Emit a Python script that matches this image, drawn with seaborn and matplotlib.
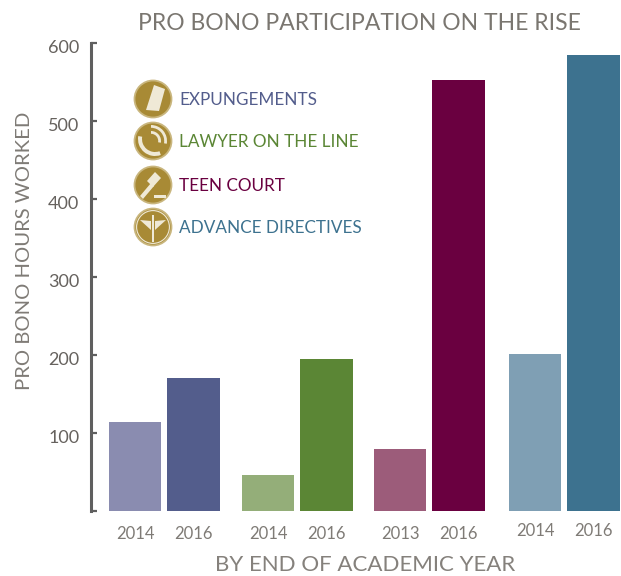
import matplotlib
matplotlib.use("Agg")
import matplotlib.pyplot as plt
from matplotlib.patches import Circle, Polygon, Wedge, Rectangle
from matplotlib.transforms import ScaledTranslation
import pandas as pd
import seaborn as sns

programs = ["EXPUNGEMENTS", "LAWYER ON THE LINE", "TEEN COURT", "ADVANCE DIRECTIVES"]
program_colors = ["#535D8C", "#5B8635", "#6A0040", "#3D728F"]
early_colors = ["#8A8CB0", "#94AE79", "#9C5C7A", "#7F9FB4"]
early_years = ["2014", "2014", "2013", "2014"]
late_years = ["2016", "2016", "2016", "2016"]
early_hours = [114, 46, 80, 201]
late_hours = [170, 195, 553, 585]

W, H = 621, 576
group_start = [0, 133, 265, 400]
member_step = 58.5

rows = []
for i, p in enumerate(programs):
    rows.append([p + " " + early_years[i], group_start[i], early_years[i], early_hours[i], early_colors[i]])
    rows.append([p + " " + late_years[i], group_start[i] + member_step, late_years[i], late_hours[i], program_colors[i]])
df = pd.DataFrame(rows, columns=["bar", "pos", "year", "hours", "color"])

sns.set_theme(style="white")
plt.rcParams["font.family"] = ["Lato", "DejaVu Sans"]
fig = plt.figure(figsize=(W / 100, H / 100), dpi=100)
ax = fig.add_axes([91 / W, 1 - 511 / H, (W - 91) / W, 468 / H])

sns.barplot(ax=ax, data=df, x="pos", y="hours", hue="bar", hue_order=list(df["bar"]),
            palette=list(df["color"]), native_scale=True, dodge=False, width=0.9,
            saturation=1, legend=False, linewidth=0)

ax.set_xlim(-44, 486)
ax.set_ylim(0, 600)
ax.set_xlabel("")
ax.set_ylabel("")
for s in ["top", "right", "bottom"]:
    ax.spines[s].set_visible(False)
ax.spines["left"].set_linewidth(2.2)
ax.spines["left"].set_color("#5F5F5F")
ax.set_yticks([0, 100, 200, 300, 400, 500, 600], ["", "100", "200", "300", "400", "500", "600"])
ax.tick_params(axis="y", direction="in", length=4, width=1.6, color="#5F5F5F",
               labelcolor="#66625E", labelsize=13, pad=8.5, left=True)
# y numbers sit a little under their ticks in the original
shift = ScaledTranslation(0, -5 / 100, fig.dpi_scale_trans)
for t in ax.get_yticklabels():
    t.set_va("center")
    t.set_transform(t.get_transform() + shift)
ax.set_xticks(df["pos"], df["year"])
ax.tick_params(axis="x", length=0, labelsize=12, labelcolor="#7F7B76", pad=11)
for tick in ax.xaxis.get_major_ticks()[6:]:
    tick.set_pad(8.5)

fig.text(359 / W, 1 - 23 / H, "PRO BONO PARTICIPATION ON THE RISE", ha="center", va="center",
         fontsize=16.5, color="#7A7670")
fig.text(365 / W, 1 - 571 / H, "BY END OF ACADEMIC YEAR", ha="center", va="baseline",
         fontsize=16, color="#85817C")
fig.text(25 / W, 1 - 251 / H, "PRO BONO HOURS WORKED", rotation=90, ha="center", va="center",
         fontsize=14.6, color="#7F7B76")

gold = "#A88A35"
light = "#EFE9D6"
icon_y = [99, 141, 185, 227]
label_y = [100, 142, 186, 228]


def icon(cy, kind):
    a = fig.add_axes([(153 - 21) / W, 1 - (cy + 21) / H, 42 / W, 42 / H])
    a.set_xlim(-1.05, 1.05)
    a.set_ylim(-1.05, 1.05)
    a.axis("off")
    a.add_patch(Circle((0, 0), 0.97, fc="#C9B67E", ec="none"))
    a.add_patch(Circle((0, 0), 0.88, fc=gold, ec="none"))
    if kind == 0:
        a.add_patch(Polygon([(-0.35, -0.55), (0.05, 0.7), (0.6, 0.5), (0.3, -0.6)], fc=light, ec="none"))
    elif kind == 1:
        a.add_patch(Wedge((-0.1, 0.0), 0.8, -10, 90, width=0.14, fc=light, ec="none"))
        a.add_patch(Wedge((-0.1, 0.0), 0.5, -10, 90, width=0.14, fc=light, ec="none"))
        a.add_patch(Wedge((0.1, 0.1), 0.85, 170, 290, width=0.2, fc=light, ec="none"))
    elif kind == 2:
        a.add_patch(Polygon([(-0.3, 0.2), (0.1, 0.65), (0.4, 0.35), (0.0, -0.1)], fc=light, ec="none"))
        a.add_patch(Polygon([(-0.65, -0.55), (-0.5, -0.7), (0.05, -0.05), (-0.1, 0.1)], fc=light, ec="none"))
        a.add_patch(Rectangle((0.05, -0.65), 0.6, 0.14, fc=light, ec="none"))
    else:
        a.add_patch(Circle((0, 0), 0.82, fc="none", ec=light, lw=0.8))
        a.add_patch(Rectangle((-0.05, -0.75), 0.1, 1.35, fc=light, ec="none"))
        a.add_patch(Polygon([(-0.65, 0.35), (-0.1, 0.3), (-0.1, -0.15)], fc=light, ec="none"))
        a.add_patch(Polygon([(0.65, 0.35), (0.1, 0.3), (0.1, -0.15)], fc=light, ec="none"))


for i, name in enumerate(programs):
    icon(icon_y[i], i)
    fig.text(179 / W, 1 - label_y[i] / H, name, ha="left", va="center", fontsize=12.3,
             color=program_colors[i])

fig.savefig("out.png", dpi=100)
